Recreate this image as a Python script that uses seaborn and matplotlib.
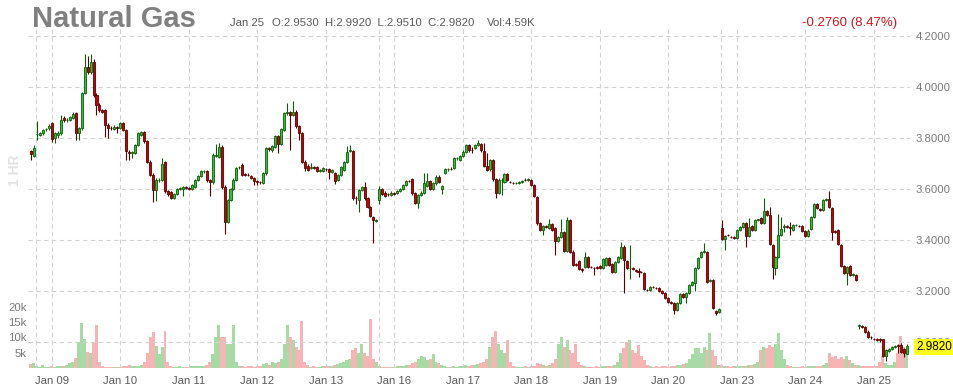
import numpy as np
import pandas as pd
import matplotlib
matplotlib.use("Agg")
import matplotlib.pyplot as plt
import seaborn as sns

# ---------------- data (hourly candles: open, high, low, close) ----------------
jan06 = [(3.748, 3.752, 3.712, 3.736), (3.728, 3.771, 3.725, 3.760)]
jan09 = [
    (3.813, 3.865, 3.790, 3.815), (3.810, 3.822, 3.805, 3.817), (3.817, 3.834, 3.812, 3.830),
    (3.834, 3.840, 3.828, 3.836), (3.837, 3.852, 3.832, 3.847), (3.856, 3.860, 3.785, 3.795),
    (3.800, 3.822, 3.780, 3.817), (3.810, 3.826, 3.800, 3.820), (3.817, 3.890, 3.812, 3.869),
    (3.878, 3.884, 3.862, 3.869), (3.869, 3.876, 3.862, 3.871), (3.870, 3.886, 3.866, 3.880),
    (3.878, 3.900, 3.874, 3.892), (3.896, 3.902, 3.790, 3.817), (3.817, 3.842, 3.790, 3.837),
    (3.837, 3.980, 3.832, 3.974), (3.974, 4.127, 3.970, 4.078), (4.078, 4.120, 4.050, 4.056),
    (4.056, 4.127, 4.050, 4.098), (4.098, 4.110, 3.960, 3.967), (3.967, 3.975, 3.890, 3.928),
    (3.928, 3.935, 3.900, 3.908), (3.908, 3.912, 3.895, 3.900)]
jan10 = [
    (3.908, 3.912, 3.804, 3.850), (3.850, 3.856, 3.800, 3.840), (3.840, 3.846, 3.832, 3.838),
    (3.835, 3.848, 3.830, 3.842), (3.842, 3.846, 3.820, 3.840), (3.840, 3.862, 3.836, 3.856),
    (3.856, 3.860, 3.826, 3.830), (3.830, 3.834, 3.713, 3.748), (3.745, 3.750, 3.713, 3.740),
    (3.740, 3.748, 3.720, 3.742), (3.739, 3.776, 3.735, 3.771), (3.771, 3.822, 3.766, 3.817),
    (3.810, 3.826, 3.805, 3.822), (3.821, 3.825, 3.780, 3.787), (3.787, 3.792, 3.700, 3.706),
    (3.706, 3.712, 3.648, 3.654), (3.654, 3.660, 3.549, 3.595), (3.595, 3.640, 3.550, 3.634),
    (3.634, 3.640, 3.628, 3.636), (3.634, 3.720, 3.630, 3.696), (3.704, 3.710, 3.585, 3.590),
    (3.590, 3.596, 3.572, 3.578), (3.588, 3.592, 3.560, 3.565)]
jan11 = [
    (3.565, 3.584, 3.560, 3.580), (3.580, 3.604, 3.576, 3.600), (3.600, 3.606, 3.594, 3.601),
    (3.598, 3.610, 3.570, 3.605), (3.605, 3.610, 3.598, 3.604), (3.602, 3.606, 3.595, 3.600),
    (3.600, 3.618, 3.596, 3.615), (3.608, 3.638, 3.604, 3.634), (3.634, 3.654, 3.630, 3.650),
    (3.650, 3.674, 3.646, 3.670), (3.668, 3.674, 3.662, 3.668), (3.668, 3.672, 3.628, 3.634),
    (3.634, 3.638, 3.570, 3.625), (3.625, 3.740, 3.620, 3.732), (3.730, 3.775, 3.724, 3.732),
    (3.726, 3.780, 3.720, 3.765), (3.765, 3.770, 3.600, 3.608), (3.608, 3.614, 3.421, 3.471),
    (3.471, 3.560, 3.466, 3.556), (3.556, 3.604, 3.550, 3.600), (3.600, 3.640, 3.596, 3.634),
    (3.634, 3.684, 3.630, 3.680), (3.684, 3.690, 3.678, 3.686)]
jan12 = [
    (3.693, 3.700, 3.650, 3.654), (3.657, 3.662, 3.650, 3.655), (3.655, 3.660, 3.648, 3.653),
    (3.650, 3.654, 3.638, 3.642), (3.642, 3.646, 3.614, 3.630), (3.630, 3.634, 3.614, 3.628),
    (3.628, 3.632, 3.620, 3.626), (3.624, 3.664, 3.620, 3.660), (3.660, 3.762, 3.655, 3.758),
    (3.758, 3.764, 3.748, 3.755), (3.750, 3.770, 3.745, 3.766), (3.765, 3.812, 3.760, 3.807),
    (3.807, 3.812, 3.740, 3.775), (3.775, 3.838, 3.770, 3.833), (3.830, 3.900, 3.825, 3.896),
    (3.896, 3.937, 3.890, 3.900), (3.900, 3.906, 3.752, 3.890), (3.890, 3.944, 3.884, 3.900),
    (3.902, 3.908, 3.840, 3.846), (3.846, 3.850, 3.790, 3.818), (3.818, 3.822, 3.700, 3.706),
    (3.706, 3.712, 3.670, 3.680), (3.690, 3.695, 3.670, 3.675)]
jan13 = [
    (3.680, 3.700, 3.676, 3.684), (3.684, 3.690, 3.678, 3.682), (3.684, 3.688, 3.666, 3.670),
    (3.670, 3.676, 3.664, 3.672), (3.670, 3.684, 3.666, 3.680), (3.678, 3.682, 3.670, 3.676),
    (3.676, 3.680, 3.638, 3.665), (3.664, 3.676, 3.660, 3.672), (3.660, 3.664, 3.620, 3.631),
    (3.635, 3.658, 3.630, 3.654), (3.654, 3.688, 3.650, 3.684), (3.673, 3.710, 3.668, 3.706),
    (3.706, 3.766, 3.700, 3.742), (3.748, 3.770, 3.742, 3.750), (3.748, 3.752, 3.556, 3.562),
    (3.565, 3.570, 3.540, 3.562), (3.556, 3.600, 3.510, 3.595), (3.595, 3.612, 3.590, 3.608),
    (3.608, 3.625, 3.556, 3.562), (3.562, 3.566, 3.525, 3.530), (3.527, 3.532, 3.488, 3.493),
    (3.490, 3.494, 3.386, 3.477), (3.473, 3.482, 3.468, 3.478)]
jan16 = [
    (3.556, 3.610, 3.540, 3.598), (3.598, 3.602, 3.576, 3.580), (3.585, 3.590, 3.566, 3.572),
    (3.580, 3.584, 3.572, 3.578), (3.575, 3.590, 3.570, 3.585), (3.582, 3.586, 3.576, 3.580),
    (3.584, 3.594, 3.580, 3.590), (3.590, 3.602, 3.586, 3.598), (3.598, 3.618, 3.594, 3.614),
    (3.614, 3.636, 3.610, 3.631), (3.631, 3.636, 3.625, 3.630), (3.637, 3.642, 3.576, 3.582),
    (3.582, 3.586, 3.540, 3.545), (3.545, 3.580, 3.523, 3.575), (3.575, 3.590, 3.570, 3.585),
    (3.582, 3.660, 3.578, 3.621), (3.610, 3.660, 3.605, 3.631), (3.631, 3.636, 3.596, 3.600),
    (3.600, 3.626, 3.596, 3.621), (3.621, 3.652, 3.616, 3.647), (3.647, 3.652, 3.622, 3.628),
    (3.600, 3.615, 3.580, 3.610), (3.660, 3.680, 3.656, 3.676)]
jan17 = [
    (3.676, 3.682, 3.670, 3.678), (3.678, 3.684, 3.672, 3.676), (3.680, 3.724, 3.676, 3.720),
    (3.720, 3.726, 3.714, 3.722), (3.713, 3.732, 3.708, 3.728), (3.728, 3.750, 3.724, 3.745),
    (3.745, 3.776, 3.740, 3.771), (3.771, 3.776, 3.745, 3.750), (3.752, 3.765, 3.740, 3.750),
    (3.758, 3.775, 3.754, 3.771), (3.771, 3.790, 3.766, 3.781), (3.775, 3.780, 3.745, 3.750),
    (3.749, 3.780, 3.684, 3.689), (3.689, 3.740, 3.670, 3.675), (3.676, 3.718, 3.670, 3.713),
    (3.713, 3.718, 3.632, 3.637), (3.637, 3.642, 3.565, 3.584), (3.584, 3.640, 3.580, 3.634),
    (3.634, 3.640, 3.575, 3.636), (3.628, 3.662, 3.624, 3.658), (3.658, 3.662, 3.630, 3.634),
    (3.628, 3.632, 3.622, 3.626), (3.624, 3.628, 3.618, 3.622)]
jan18 = [
    (3.622, 3.627, 3.617, 3.622), (3.624, 3.630, 3.620, 3.626), (3.625, 3.636, 3.621, 3.632),
    (3.635, 3.640, 3.630, 3.634), (3.636, 3.642, 3.632, 3.637), (3.633, 3.638, 3.610, 3.615),
    (3.614, 3.618, 3.566, 3.571), (3.569, 3.573, 3.459, 3.464), (3.464, 3.468, 3.435, 3.440),
    (3.440, 3.456, 3.420, 3.452), (3.452, 3.457, 3.446, 3.450), (3.445, 3.480, 3.440, 3.462),
    (3.462, 3.466, 3.436, 3.440), (3.445, 3.450, 3.340, 3.396), (3.396, 3.414, 3.390, 3.410),
    (3.410, 3.480, 3.405, 3.430), (3.431, 3.436, 3.350, 3.357), (3.357, 3.490, 3.352, 3.477),
    (3.477, 3.482, 3.348, 3.353), (3.353, 3.358, 3.295, 3.300), (3.305, 3.310, 3.298, 3.302),
    (3.318, 3.322, 3.280, 3.284), (3.285, 3.290, 3.275, 3.283)]
jan19 = [
    (3.294, 3.350, 3.290, 3.334), (3.334, 3.338, 3.290, 3.294), (3.294, 3.298, 3.288, 3.292),
    (3.290, 3.294, 3.262, 3.288), (3.292, 3.296, 3.286, 3.290), (3.297, 3.300, 3.284, 3.288),
    (3.288, 3.328, 3.284, 3.323), (3.300, 3.334, 3.296, 3.330), (3.330, 3.334, 3.296, 3.300),
    (3.305, 3.310, 3.270, 3.275), (3.275, 3.318, 3.270, 3.314), (3.314, 3.338, 3.310, 3.334),
    (3.330, 3.392, 3.326, 3.373), (3.373, 3.378, 3.192, 3.320), (3.316, 3.320, 3.284, 3.288),
    (3.288, 3.380, 3.245, 3.290), (3.288, 3.292, 3.282, 3.286), (3.280, 3.284, 3.274, 3.279),
    (3.276, 3.290, 3.255, 3.275), (3.274, 3.278, 3.268, 3.272), (3.270, 3.274, 3.201, 3.206),
    (3.204, 3.208, 3.198, 3.202), (3.202, 3.219, 3.198, 3.215)]
jan20 = [
    (3.215, 3.219, 3.209, 3.213), (3.212, 3.216, 3.206, 3.210), (3.210, 3.214, 3.196, 3.200),
    (3.200, 3.204, 3.188, 3.192), (3.192, 3.196, 3.166, 3.170), (3.170, 3.174, 3.151, 3.155),
    (3.155, 3.159, 3.149, 3.153), (3.152, 3.156, 3.110, 3.124), (3.124, 3.156, 3.120, 3.152),
    (3.152, 3.191, 3.148, 3.187), (3.187, 3.191, 3.170, 3.174), (3.174, 3.194, 3.150, 3.190),
    (3.190, 3.226, 3.186, 3.222), (3.222, 3.239, 3.218, 3.235), (3.229, 3.292, 3.200, 3.288),
    (3.288, 3.331, 3.284, 3.327), (3.331, 3.357, 3.327, 3.353), (3.353, 3.388, 3.349, 3.355),
    (3.353, 3.357, 3.231, 3.235), (3.240, 3.246, 3.236, 3.242), (3.242, 3.246, 3.127, 3.131),
    (3.122, 3.126, 3.104, 3.111), (3.118, 3.134, 3.114, 3.130)]
jan23 = [
    (3.445, 3.477, 3.398, 3.402), (3.402, 3.419, 3.359, 3.415), (3.420, 3.424, 3.414, 3.418),
    (3.412, 3.416, 3.406, 3.410), (3.410, 3.414, 3.401, 3.405), (3.405, 3.442, 3.401, 3.438),
    (3.438, 3.455, 3.434, 3.451), (3.451, 3.468, 3.447, 3.464), (3.464, 3.468, 3.370, 3.415),
    (3.415, 3.485, 3.411, 3.451), (3.453, 3.457, 3.436, 3.440), (3.438, 3.481, 3.434, 3.477),
    (3.478, 3.482, 3.474, 3.480), (3.484, 3.488, 3.463, 3.467), (3.464, 3.562, 3.460, 3.514),
    (3.514, 3.518, 3.493, 3.497), (3.497, 3.530, 3.379, 3.383), (3.379, 3.383, 3.245, 3.292),
    (3.288, 3.335, 3.260, 3.331), (3.331, 3.500, 3.327, 3.418), (3.418, 3.490, 3.414, 3.441),
    (3.450, 3.460, 3.430, 3.452), (3.452, 3.456, 3.446, 3.450)]
jan24 = [
    (3.448, 3.470, 3.420, 3.446), (3.440, 3.462, 3.436, 3.458), (3.456, 3.462, 3.452, 3.458),
    (3.454, 3.458, 3.448, 3.452), (3.452, 3.456, 3.432, 3.436), (3.435, 3.439, 3.410, 3.414),
    (3.414, 3.440, 3.410, 3.436), (3.441, 3.492, 3.437, 3.488), (3.488, 3.544, 3.484, 3.540),
    (3.540, 3.544, 3.519, 3.523), (3.520, 3.524, 3.514, 3.518), (3.516, 3.560, 3.512, 3.556),
    (3.554, 3.562, 3.550, 3.558), (3.558, 3.592, 3.525, 3.529), (3.523, 3.527, 3.400, 3.431),
    (3.434, 3.438, 3.428, 3.432), (3.438, 3.442, 3.379, 3.383), (3.379, 3.383, 3.293, 3.297),
    (3.297, 3.301, 3.267, 3.271), (3.271, 3.296, 3.222, 3.292), (3.297, 3.301, 3.258, 3.262),
    (3.262, 3.268, 3.256, 3.264), (3.262, 3.266, 3.238, 3.242)]
jan25 = [
    (3.062, 3.068, 3.050, 3.064), (3.060, 3.064, 3.054, 3.058), (3.059, 3.063, 3.035, 3.039),
    (3.039, 3.045, 3.013, 3.017), (3.018, 3.022, 3.012, 3.017), (3.012, 3.016, 3.006, 3.011),
    (3.010, 3.014, 3.004, 3.008), (3.009, 3.015, 3.000, 3.008), (3.009, 3.012, 2.940, 2.944),
    (2.944, 2.971, 2.925, 2.967), (2.962, 2.976, 2.958, 2.972), (2.970, 2.982, 2.966, 2.978),
    (2.980, 2.986, 2.974, 2.982), (2.985, 2.990, 2.955, 2.984), (2.987, 2.995, 2.957, 2.961),
    (2.970, 2.974, 2.940, 2.955), (2.953, 2.992, 2.951, 2.982)]

# hourly volume, thousands of contracts
vol_jan06 = [1.2, 1.5]
vol_jan09 = [0.8, 0.4, 1.0, 0.4, 0.3, 0.5, 0.3, 0.6, 0.5, 0.7, 1.0, 1.5, 2.0, 3.3, 8.6, 14.7, 9.5, 5.3, 5.0, 8.5, 14.2, 2.0, 0.6]
vol_jan10 = [0.4, 0.3, 0.3, 0.2, 0.3, 0.4, 0.5, 0.8, 1.0, 0.8, 0.7, 0.6, 1.0, 2.0, 5.0, 10.0, 11.9, 7.2, 4.5, 7.0, 12.0, 2.0, 0.8]
vol_jan11 = [0.4, 0.3, 0.5, 0.3, 0.4, 0.3, 0.6, 0.5, 0.8, 0.6, 0.7, 1.0, 2.0, 4.5, 10.0, 14.0, 10.0, 10.0, 8.0, 8.0, 14.2, 2.0, 0.8]
vol_jan12 = [0.5, 0.4, 0.6, 0.5, 0.4, 0.6, 0.8, 1.2, 1.5, 1.0, 1.8, 1.5, 2.0, 3.0, 8.0, 14.0, 10.0, 9.0, 7.0, 6.0, 15.5, 2.0, 1.0]
vol_jan13 = [0.4, 0.5, 0.3, 0.4, 0.6, 0.5, 0.8, 0.7, 1.0, 1.2, 1.5, 2.0, 2.5, 3.0, 6.0, 6.5, 5.0, 8.0, 5.0, 4.0, 16.0, 3.0, 2.0]
vol_jan16 = [0.5, 0.4, 0.3, 0.3, 0.4, 0.3, 0.5, 0.6, 0.8, 1.0, 1.0, 1.5, 2.0, 3.0, 4.0, 3.5, 2.5, 3.0, 4.5, 2.0, 1.5, 1.0, 0.8]
vol_jan17 = [0.4, 0.3, 0.5, 0.4, 0.6, 0.8, 1.0, 0.8, 0.9, 1.0, 1.2, 1.5, 2.0, 3.0, 7.0, 10.0, 12.0, 8.0, 6.0, 5.0, 9.0, 2.0, 0.8]
vol_jan18 = [0.4, 0.3, 0.4, 0.5, 0.4, 0.6, 0.8, 1.5, 1.2, 1.0, 0.8, 1.0, 1.5, 3.0, 8.0, 10.0, 7.0, 9.0, 6.0, 5.0, 8.0, 2.0, 1.0]
vol_jan19 = [0.5, 0.4, 0.3, 0.4, 0.5, 0.4, 0.8, 0.6, 0.7, 0.8, 1.0, 2.0, 5.0, 6.5, 8.6, 9.0, 6.0, 5.0, 7.5, 4.0, 2.5, 1.0, 0.6]
vol_jan20 = [0.4, 0.5, 0.4, 0.6, 0.5, 0.4, 0.8, 0.7, 0.9, 1.0, 1.2, 1.5, 3.0, 4.5, 6.4, 6.4, 5.0, 7.0, 6.0, 11.3, 6.0, 4.0, 1.0]
vol_jan23 = [1.0, 0.8, 0.5, 0.4, 0.5, 0.6, 0.5, 0.7, 0.8, 1.0, 1.0, 1.2, 2.0, 6.0, 7.0, 6.5, 7.5, 7.0, 8.0, 11.5, 6.0, 3.0, 1.0]
vol_jan24 = [0.5, 0.4, 0.3, 0.4, 0.5, 0.4, 0.6, 0.8, 0.7, 0.6, 0.8, 1.0, 1.5, 4.8, 3.5, 4.0, 3.0, 3.5, 3.0, 4.0, 2.5, 1.5, 1.0]
vol_jan25 = [1.0, 0.6, 0.8, 0.5, 0.6, 0.5, 0.7, 2.0, 4.0, 1.5, 1.0, 1.0, 2.0, 5.0, 10.5, 7.0, 4.59]

day_labels = ["Jan 09", "Jan 10", "Jan 11", "Jan 12", "Jan 13", "Jan 16", "Jan 17",
              "Jan 18", "Jan 19", "Jan 20", "Jan 23", "Jan 24", "Jan 25"]
week_start_sessions = [0, 5, 10]          # sessions that open a new week
price_ticks = [3.0, 3.2, 3.4, 3.6, 3.8, 4.0, 4.2]
vol_ticks = [5000, 10000, 15000, 20000]
vol_tick_labels = ["5k", "10k", "15k", "20k"]

sessions = [jan09, jan10, jan11, jan12, jan13, jan16, jan17, jan18, jan19, jan20, jan23, jan24, jan25]
session_vols = [vol_jan09, vol_jan10, vol_jan11, vol_jan12, vol_jan13, vol_jan16, vol_jan17,
                vol_jan18, vol_jan19, vol_jan20, vol_jan23, vol_jan24, vol_jan25]

rows = list(jan06)
vols = list(vol_jan06)
session_start = []
for s, v in zip(sessions, session_vols):
    session_start.append(len(rows))
    rows += s
    vols += v

df = pd.DataFrame(rows, columns=["open", "high", "low", "close"])
df["volume"] = np.array(vols) * 1000
df["idx"] = np.arange(len(df))
df["dir"] = np.where(df["close"] >= df["open"], "up", "down")

# ---------------- figure ----------------
sns.set_theme(style="white")
plt.rcParams["font.family"] = ["Liberation Sans", "DejaVu Sans"]

W, H = 954, 388
fig = plt.figure(figsize=(W / 100, H / 100), dpi=100)
fig.patch.set_facecolor("white")
left_px, right_px, top_px, bot_px = 28, 910, 28, 368
axv = fig.add_axes([left_px / W, 1 - bot_px / H, (right_px - left_px) / W, (bot_px - top_px) / H])

# volume bars (seaborn)
sns.barplot(data=df, x="idx", y="volume", hue="dir", native_scale=True, dodge=False,
            palette={"up": "#a6dba6", "down": "#f7b4b4"}, width=1.0, errorbar=None,
            legend=False, saturation=1, linewidth=0, ax=axv)

axp = axv.twinx()

x0 = -1.0
x1 = (right_px - 31) / 2.978
axv.set_xlim(x0, x1)
axv.set_ylim(0, (bot_px - top_px) / 15.3 * 5000)
axp.set_ylim(4.2 - (bot_px - 35.7) / 255, 4.2 + (35.7 - top_px) / 255)

# grid lines
grid_kw = dict(color="#d2d2d2", linewidth=0.8, linestyle=(0, (4, 3)), zorder=0)
for p in price_ticks:
    axp.axhline(p, **grid_kw)
day_pos = [s + 5 for s in session_start]
for d in day_pos:
    axp.axvline(d, **grid_kw)
for k in week_start_sessions:
    axp.axvline(session_start[k] - 0.3, **grid_kw)

# candles
up = df["dir"] == "up"
body_col = np.where(up, "#33c433", "#c80000")
edge_col = np.where(up, "#0b5e0b", "#5c0000")
axp.vlines(df["idx"], df["low"], df["high"], colors=edge_col, linewidth=0.8, zorder=2)
bottoms = np.minimum(df["open"], df["close"])
heights = np.maximum((df["close"] - df["open"]).abs(), 0.0015)
axp.bar(df["idx"], heights, bottom=bottoms, width=0.68, color=body_col,
        edgecolor=edge_col, linewidth=0.6, zorder=3)

# ticks
for ax in (axv, axp):
    for sp in ax.spines.values():
        sp.set_visible(False)
axp.set_yticks(price_ticks)
axp.set_yticklabels([f"{p:.4f}" for p in price_ticks])
axp.tick_params(axis="y", length=0, pad=4, labelsize=8.2, labelcolor="#7a7a7a")
axv.set_yticks(vol_ticks)
axv.set_yticklabels(vol_tick_labels)
axv.tick_params(axis="y", length=0, pad=1, labelsize=8.2, labelcolor="#7a7a7a")
axv.set_xticks(day_pos)
axv.set_xticklabels(day_labels)
axv.tick_params(axis="x", length=0, pad=6, labelsize=8.2, labelcolor="#5a5a5a")
axv.set_xlabel("")
axv.set_ylabel("")
axp.set_ylabel("")
axv.grid(False)
axp.grid(False)

# header
fig.text(32 / W, 1 - 27 / H, "Natural Gas", fontsize=21, fontweight="bold",
         color="#808080", ha="left", va="baseline")
fig.text(230 / W, 1 - 26 / H, "Jan 25", fontsize=8.2, color="#5a5a5a", ha="left", va="baseline")
fig.text(272 / W, 1 - 26 / H, "O:2.9530  H:2.9920  L:2.9510  C:2.9820", fontsize=8.2,
         color="#5a5a5a", ha="left", va="baseline")
fig.text(487 / W, 1 - 26 / H, "Vol:4.59K", fontsize=8.2, color="#5a5a5a", ha="left", va="baseline")
fig.text(897 / W, 1 - 26 / H, "-0.2760 (8.47%)", fontsize=9.5, color="#c8161d",
         ha="right", va="baseline")
fig.text(15 / W, 1 - 170 / H, "1 HR", fontsize=10, fontweight="bold", color="#e2e2e2",
         rotation=90, ha="center", va="center")
fig.text(916 / W, 1 - 347 / H, "2.9820", fontsize=8.5, color="black", ha="left", va="center",
         bbox=dict(facecolor="#ffff1a", edgecolor="none", pad=1.2), zorder=10)

fig.savefig("out.png", dpi=100, facecolor="white")
